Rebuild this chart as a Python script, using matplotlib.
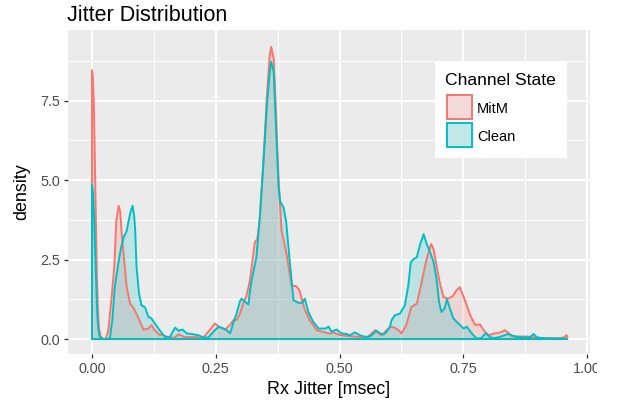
import matplotlib
matplotlib.use("Agg")
import matplotlib.pyplot as plt
from matplotlib.patches import Polygon, Rectangle
from matplotlib.transforms import Bbox, TransformedBbox

plt.rcParams['font.family'] = ['Liberation Sans', 'DejaVu Sans']

# Kernel density of receive jitter, per channel state
mitm_x = [0.0, 0.002, 0.004, 0.006, 0.008, 0.010, 0.012, 0.014, 0.017, 0.022, 0.028,
          0.033, 0.039, 0.045, 0.049, 0.054, 0.057, 0.060, 0.065, 0.070, 0.077, 0.084,
          0.094, 0.104, 0.114, 0.120, 0.127, 0.137, 0.142, 0.155, 0.167, 0.175, 0.187,
          0.202, 0.217, 0.225, 0.235, 0.248, 0.259, 0.269, 0.279, 0.286, 0.292, 0.299,
          0.306, 0.312, 0.319, 0.322, 0.329, 0.334, 0.339, 0.346, 0.353, 0.359, 0.362,
          0.367, 0.372, 0.377, 0.383, 0.393, 0.403, 0.413, 0.419, 0.430, 0.440, 0.454,
          0.468, 0.480, 0.488, 0.500, 0.515, 0.530, 0.545, 0.556, 0.565, 0.572, 0.579,
          0.585, 0.595, 0.605, 0.612, 0.619, 0.625, 0.635, 0.645, 0.656, 0.663, 0.670,
          0.676, 0.685, 0.690, 0.696, 0.703, 0.710, 0.720, 0.730, 0.736, 0.743, 0.751,
          0.757, 0.764, 0.774, 0.784, 0.791, 0.801, 0.814, 0.824, 0.834, 0.841, 0.847,
          0.864, 0.879, 0.899, 0.919, 0.945, 0.953, 0.958, 0.960]
mitm_y = [8.46, 8.2, 7.2, 5.4, 3.6, 1.9, 0.9, 0.35, 0.1, 0.0, 0.0,
          0.28, 1.22, 2.26, 3.72, 4.19, 4.0, 3.3, 2.47, 1.64, 1.11, 0.98,
          0.65, 0.30, 0.33, 0.44, 0.27, 0.12, 0.15, 0.03, 0.05, 0.15, 0.06,
          0.07, 0.05, 0.05, 0.23, 0.49, 0.36, 0.30, 0.45, 0.60, 0.60, 0.80,
          1.15, 1.35, 1.84, 2.2, 3.05, 3.15, 3.82, 5.49, 7.57, 8.93, 9.19,
          8.82, 7.05, 4.97, 3.41, 2.68, 1.69, 1.66, 1.53, 0.91, 0.59, 0.28,
          0.22, 0.17, 0.20, 0.13, 0.10, 0.08, 0.06, 0.05, 0.18, 0.28, 0.18,
          0.12, 0.28, 0.39, 0.35, 0.28, 0.18, 0.44, 1.01, 1.11, 1.58, 2.10,
          2.52, 2.99, 2.83, 2.31, 1.74, 1.32, 1.27, 1.37, 1.53, 1.63, 1.32,
          1.06, 0.75, 0.44, 0.46, 0.28, 0.12, 0.18, 0.20, 0.28, 0.20, 0.09,
          0.08, 0.08, 0.04, 0.03, 0.03, 0.05, 0.12, 0.10]

clean_x = [0.0, 0.002, 0.004, 0.006, 0.008, 0.010, 0.012, 0.014, 0.017, 0.025, 0.036,
           0.041, 0.046, 0.054, 0.059, 0.064, 0.070, 0.072, 0.077, 0.082, 0.085, 0.087,
           0.090, 0.095, 0.100, 0.107, 0.114, 0.120, 0.127, 0.137, 0.147, 0.158, 0.162,
           0.168, 0.175, 0.183, 0.191, 0.205, 0.215, 0.225, 0.235, 0.245, 0.256, 0.266,
           0.272, 0.279, 0.286, 0.292, 0.299, 0.302, 0.309, 0.316, 0.319, 0.322, 0.332,
           0.339, 0.346, 0.353, 0.359, 0.362, 0.367, 0.372, 0.377, 0.380, 0.387, 0.392,
           0.400, 0.407, 0.417, 0.424, 0.430, 0.437, 0.447, 0.458, 0.471, 0.478, 0.484,
           0.494, 0.504, 0.514, 0.521, 0.531, 0.541, 0.552, 0.562, 0.569, 0.575, 0.582,
           0.589, 0.595, 0.602, 0.605, 0.612, 0.622, 0.632, 0.639, 0.644, 0.650, 0.656,
           0.663, 0.670, 0.676, 0.683, 0.690, 0.696, 0.701, 0.706, 0.712, 0.717, 0.723,
           0.730, 0.740, 0.751, 0.757, 0.767, 0.777, 0.786, 0.795, 0.805, 0.814, 0.824,
           0.841, 0.854, 0.869, 0.884, 0.892, 0.899, 0.919, 0.960]
clean_y = [4.86, 4.6, 3.9, 2.9, 1.9, 1.0, 0.45, 0.15, 0.03, 0.0, 0.02,
           0.6, 1.64, 2.47, 2.9, 3.2, 3.4, 3.56, 3.95, 4.19, 3.9, 3.5,
           2.26, 1.43, 1.06, 1.0, 0.70, 0.65, 0.49, 0.27, 0.07, 0.07, 0.2,
           0.36, 0.26, 0.30, 0.18, 0.15, 0.12, 0.05, 0.05, 0.23, 0.39, 0.33,
           0.28, 0.18, 0.54, 0.80, 1.20, 1.27, 1.17, 1.09, 1.5, 1.8, 2.57,
           3.82, 5.5, 7.26, 8.4, 8.72, 8.4, 6.53, 4.76, 4.34, 4.13, 3.72,
           2.36, 1.22, 1.14, 1.14, 1.27, 0.85, 0.54, 0.33, 0.33, 0.39, 0.23,
           0.30, 0.18, 0.16, 0.12, 0.21, 0.12, 0.07, 0.08, 0.18, 0.26, 0.18,
           0.14, 0.23, 0.39, 0.59, 0.75, 0.80, 1.06, 1.69, 2.42, 2.52, 2.57,
           2.99, 3.30, 2.99, 2.73, 2.42, 1.90, 1.17, 0.85, 0.96, 1.25, 0.96,
           0.65, 0.49, 0.33, 0.39, 0.18, 0.02, 0.03, 0.18, 0.05, 0.03, 0.07,
           0.16, 0.08, 0.05, 0.05, 0.16, 0.05, 0.02, 0.01]

groups = ["MitM", "Clean"]
colors = {"MitM": "#F8766D", "Clean": "#00BFC4"}
series = {"MitM": (mitm_x, mitm_y), "Clean": (clean_x, clean_y)}

x_ticks = [0.0, 0.25, 0.5, 0.75, 1.0]
x_labels = ["0.00", "0.25", "0.50", "0.75", "1.00"]
y_ticks = [0.0, 2.5, 5.0, 7.5]
y_labels = ["0.0", "2.5", "5.0", "7.5"]

W, H = 618, 405
fig = plt.figure(figsize=(W / 100, H / 100), dpi=100)
fig.patch.set_facecolor("white")

px = lambda v: v / W
py = lambda v: 1 - v / H
ax = fig.add_axes([px(68), py(354), px(590) - px(68), py(30) - py(354)])
ax.set_facecolor("#EBEBEB")
for s in ax.spines.values():
    s.set_visible(False)

ax.set_xlim(-0.0485, 1.006)
ax.set_ylim(-0.47, 9.72)

# grid
for v in [0.125, 0.375, 0.625, 0.875]:
    ax.axvline(v, color="white", lw=0.65, zorder=0)
for v in [1.25, 3.75, 6.25, 8.75]:
    ax.axhline(v, color="white", lw=0.65, zorder=0)
for v in x_ticks:
    ax.axvline(v, color="white", lw=1.3, zorder=0)
for v in y_ticks:
    ax.axhline(v, color="white", lw=1.3, zorder=0)

# density areas with full outline
for g in groups:
    xs, ys = series[g]
    px_ = [xs[0]] + list(xs) + [xs[-1], xs[0]]
    py_ = [0.0] + list(ys) + [0.0, 0.0]
    ax.add_patch(Polygon(list(zip(px_, py_)), closed=True, facecolor=colors[g],
                         alpha=0.2, edgecolor="none", zorder=2))
    ax.plot(px_, py_, color=colors[g], lw=1.4, zorder=3, solid_joinstyle="round")

ax.set_xticks(x_ticks)
ax.set_xticklabels(x_labels)
ax.set_yticks(y_ticks)
ax.set_yticklabels(y_labels)
ax.tick_params(axis="both", length=3.2, width=0.9, color="#333333",
               labelcolor="#4D4D4D", labelsize=10.4)
ax.tick_params(axis="x", pad=2.4)
ax.tick_params(axis="y", pad=2.2)

# the plotting device ends just right of the panel
clip = TransformedBbox(Bbox([[0, 0], [597 / W, 1]]), fig.transFigure)
for lab in ax.get_xticklabels():
    lab.set_clip_box(clip)
    lab.set_clip_on(True)

fig.text(px(329), py(394), "Rx Jitter [msec]", fontsize=12.9, color="black",
         ha="center", va="baseline")
fig.text(px(22), py(192), "density", fontsize=12.9, color="black",
         ha="center", va="center", rotation=90)
fig.text(px(67), py(21), "Jitter Distribution", fontsize=15.5, color="black",
         ha="left", va="baseline")

# legend
fig.add_artist(Rectangle((px(435), py(158)), px(567) - px(435), py(62) - py(158),
                         transform=fig.transFigure, facecolor="white", edgecolor="none"))
fig.text(px(445), py(85), "Channel State", fontsize=12.6, ha="left", va="baseline")
key_tops = [94, 122]
label_base = [113.3, 141]
for g, top, lb in zip(groups, key_tops, label_base):
    fig.add_artist(Rectangle((px(446), py(top + 26)), px(473) - px(446), py(top) - py(top + 26),
                             transform=fig.transFigure, facecolor="#F2F2F2", edgecolor="none"))
    fig.add_artist(Rectangle((px(447), py(top + 25)), px(472) - px(447), py(top + 1) - py(top + 25),
                             transform=fig.transFigure, facecolor=colors[g], alpha=0.2,
                             edgecolor="none"))
    fig.add_artist(Rectangle((px(447), py(top + 25)), px(472) - px(447), py(top + 1) - py(top + 25),
                             transform=fig.transFigure, facecolor="none",
                             edgecolor=colors[g], lw=1.4))
    fig.text(px(477), py(lb), g, fontsize=10.5, ha="left", va="baseline")

fig.savefig("out.png", dpi=100)
